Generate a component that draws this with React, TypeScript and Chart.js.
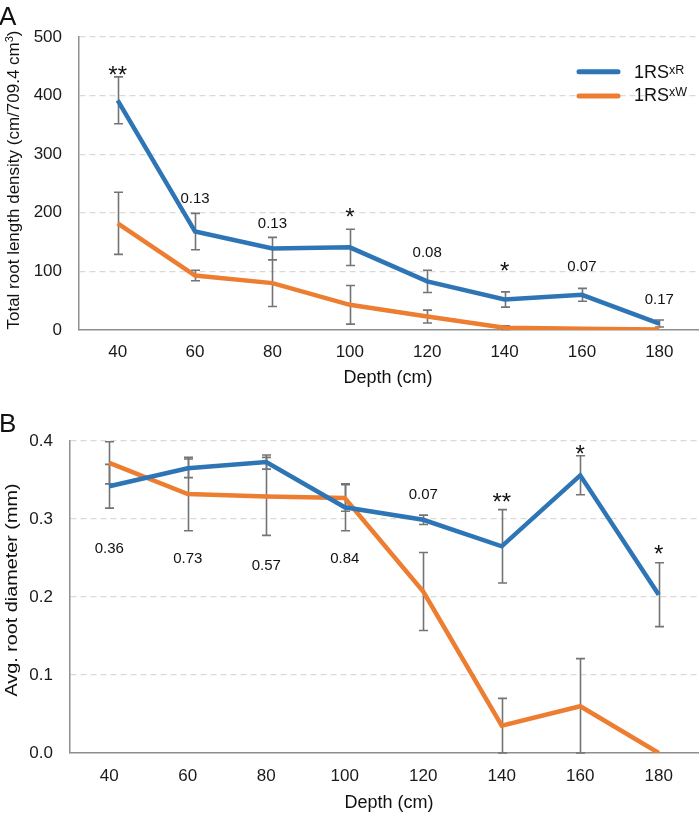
import React, { useEffect, useRef } from "react";
import { Chart, registerables } from "chart.js";
Chart.register(...registerables);

// ---- data ----
const depths = ["40", "60", "80", "100", "120", "140", "160", "180"];

const lengthXR = [392, 168, 139, 141, 83, 52, 60, 11];
const lengthXRErr = [40, 31, 19, 31, 19, 13, 11, 6];
const lengthXW = [182, 93, 80, 43, 23, 4, 2, 1];
const lengthXWErr = [53, 9, 40, 33, 11, 3, 0, 0];
const lengthMarks = ["**", "0.13", "0.13", "*", "0.08", "*", "0.07", "0.17"];
const lengthMarkY = [421, 216, 173.5, 179, 124, 87.5, 100, 45];
const lengthTicks = [0, 100, 200, 300, 400, 500];

const diamXR = [0.342, 0.365, 0.373, 0.315, 0.299, 0.265, 0.356, 0.203];
const diamXRErr = [0.028, 0.012, 0.009, 0.03, 0.006, 0.047, 0.025, 0.041];
const diamXW = [0.372, 0.332, 0.329, 0.327, 0.207, 0.035, 0.06, 0.0];
const diamXWErr = [0.027, 0.047, 0.05, 0.017, 0.05, 0.035, 0.061, 0];
const diamMarks = ["0.36", "0.73", "0.57", "0.84", "0.07", "**", "*", "*"];
const diamMarkY = [0.257, 0.243, 0.235, 0.244, 0.326, 0.312, 0.373, 0.245];
const diamTicks = [0, 0.1, 0.2, 0.3, 0.4];

const seriesNames = ["1RS", "1RS"];
const seriesSup = ["xR", "xW"];

const BLUE = "#2e75b6";
const ORANGE = "#ed7d31";
const FONT = '"Liberation Sans", Arial, sans-serif';

function makeExtras(cfg: any) {
  return {
    id: "extras",
    beforeDatasetsDraw(chart: any) {
      const ctx = chart.ctx;
      const xs = chart.scales.x;
      const ys = chart.scales.y;
      ctx.save();
      ctx.strokeStyle = "#747474";
      ctx.lineWidth = 1.6;
      for (const s of cfg.errs) {
        s.v.forEach((v: number, i: number) => {
          const e = s.e[i];
          if (!e) return;
          const px = Math.round(xs.getPixelForValue(i)) + 0.5;
          const top = ys.getPixelForValue(v + e);
          const lowV = Math.max(v - e, ys.min);
          const bot = ys.getPixelForValue(lowV);
          ctx.beginPath();
          ctx.moveTo(px, top);
          ctx.lineTo(px, bot);
          ctx.moveTo(px - 4.5, top);
          ctx.lineTo(px + 4.5, top);
          ctx.moveTo(px - 4.5, bot);
          ctx.lineTo(px + 4.5, bot);
          ctx.stroke();
        });
      }
      ctx.restore();
    },
    afterDraw(chart: any) {
      const ctx = chart.ctx;
      const xs = chart.scales.x;
      const ys = chart.scales.y;
      ctx.save();
      ctx.fillStyle = "#111";
      ctx.textAlign = "center";
      ctx.textBaseline = "alphabetic";
      cfg.marks.forEach((m: string, i: number) => {
        if (!m) return;
        const star = m.indexOf("*") >= 0;
        ctx.font = (star ? "24px " : "15px ") + FONT;
        ctx.fillText(m, xs.getPixelForValue(i), ys.getPixelForValue(cfg.markY[i]));
      });
      // panel letter
      ctx.textAlign = "left";
      ctx.font = "26px " + FONT;
      ctx.fillText(cfg.letter, -1, cfg.letterBase);
      // x title
      ctx.textAlign = "center";
      ctx.textBaseline = "middle";
      ctx.font = "18px " + FONT;
      ctx.fillText("Depth (cm)", cfg.xTitleX, cfg.xTitleY);
      // y title
      ctx.translate(cfg.yTitleX, cfg.yTitleY);
      ctx.rotate(-Math.PI / 2);
      ctx.scale(cfg.yTitleStretch, 1);
      const fs = cfg.yTitleSize;
      const parts = cfg.yTitle as { t: string; sup?: boolean }[];
      const widths = parts.map((p) => {
        ctx.font = (p.sup ? "11px " : fs + "px ") + FONT;
        return ctx.measureText(p.t).width;
      });
      const total = widths.reduce((a, b) => a + b, 0);
      let cx = -total / 2;
      ctx.textAlign = "left";
      ctx.textBaseline = "alphabetic";
      parts.forEach((p, i) => {
        ctx.font = (p.sup ? "11px " : fs + "px ") + FONT;
        ctx.fillText(p.t, cx, p.sup ? 6 - 6 : 6);
        cx += widths[i];
      });
      ctx.restore();

      if (cfg.legend) {
        ctx.save();
        const colors = [BLUE, ORANGE];
        const ly = [71.7, 96];
        const ty = [78.3, 100.5];
        colors.forEach((c, i) => {
          ctx.strokeStyle = c;
          ctx.lineWidth = 5;
          ctx.lineCap = "round";
          ctx.beginPath();
          ctx.moveTo(579, ly[i]);
          ctx.lineTo(618, ly[i]);
          ctx.stroke();
          ctx.fillStyle = "#111";
          ctx.font = "18px " + FONT;
          ctx.textAlign = "left";
          ctx.textBaseline = "alphabetic";
          ctx.fillText(seriesNames[i], 634, ty[i]);
          const w = ctx.measureText(seriesNames[i]).width;
          ctx.font = "12.5px " + FONT;
          ctx.fillText(seriesSup[i], 634 + w, ty[i] - 4.5);
        });
        ctx.restore();
      }
    },
  };
}

function buildConfig(p: any) {
  return {
    type: "line",
    data: {
      labels: depths,
      datasets: [
        { label: "xR", data: p.a, borderColor: BLUE, borderWidth: 4.5, pointRadius: 0, tension: 0, fill: false },
        { label: "xW", data: p.b, borderColor: ORANGE, borderWidth: 4.5, pointRadius: 0, tension: 0, fill: false },
      ],
    },
    options: {
      responsive: false,
      animation: false,
      events: [],
      layout: { padding: { left: 0, right: 2, top: p.padTop, bottom: 0 } },
      plugins: { legend: { display: false }, tooltip: { enabled: false }, title: { display: false } },
      scales: {
        x: {
          offset: true,
          grid: { display: false, drawTicks: false },
          border: { display: true, color: "#8e8e8e", width: 1.5 },
          ticks: { color: "#1a1a1a", font: { family: FONT, size: 17 }, padding: p.xPad, maxRotation: 0 },
          afterFit: (s: any) => {
            s.height = p.xHeight;
          },
        },
        y: {
          min: p.min,
          max: p.max,
          afterBuildTicks: (s: any) => {
            s.ticks = p.ticks.map((v: number) => ({ value: v }));
          },
          afterFit: (s: any) => {
            s.width = p.yWidth;
          },
          grid: {
            drawTicks: false,
            color: (c: any) => (c.tick && c.tick.value === p.min ? "rgba(0,0,0,0)" : "#d9d9d9"),
            lineWidth: 1.2,
          },
          border: { display: true, color: "#8e8e8e", width: 1.5, dash: [6, 4] },
          ticks: {
            color: "#1a1a1a",
            font: { family: FONT, size: 17 },
            padding: 17,
            callback: (v: any) => p.fmt(v),
          },
        },
      },
    },
    plugins: [makeExtras(p.extras)],
  };
}

function ChartCanvas(props: { cfg: any; width: number; height: number; top: number }) {
  const ref = useRef<HTMLCanvasElement | null>(null);
  useEffect(() => {
    if (!ref.current) return;
    const ch = new Chart(ref.current, props.cfg);
    return () => ch.destroy();
  }, []);
  return (
    <canvas
      ref={ref}
      width={props.width}
      height={props.height}
      style={{ position: "absolute", left: 0, top: props.top, width: props.width, height: props.height }}
    />
  );
}

export default function App() {
  const cfgA = buildConfig({
    a: lengthXR,
    b: lengthXW,
    min: 0,
    max: 500,
    ticks: lengthTicks,
    fmt: (v: number) => String(v),
    padTop: 37,
    xHeight: 65,
    yWidth: 79,
    xPad: 12,
    extras: {
      errs: [
        { v: lengthXR, e: lengthXRErr },
        { v: lengthXW, e: lengthXWErr },
      ],
      marks: lengthMarks,
      markY: lengthMarkY,
      letter: "A",
      letterBase: 25,
      xTitleX: 388,
      xTitleY: 378,
      yTitleX: 12.5,
      yTitleY: 180,
      yTitleSize: 17,
      yTitleStretch: 1,
      yTitle: [{ t: "Total root length density (cm/709.4 cm" }, { t: "3", sup: true }, { t: ")" }],
      legend: true,
    },
  });
  const cfgB = buildConfig({
    a: diamXR,
    b: diamXW,
    min: 0,
    max: 0.4,
    ticks: diamTicks,
    fmt: (v: number) => Number(v).toFixed(1),
    padTop: 46,
    xHeight: 64,
    yWidth: 70,
    xPad: 13,
    extras: {
      errs: [
        { v: diamXR, e: diamXRErr },
        { v: diamXW, e: diamXWErr },
      ],
      marks: diamMarks,
      markY: diamMarkY,
      letter: "B",
      letterBase: 37,
      xTitleX: 389,
      xTitleY: 408,
      yTitleX: 11,
      yTitleY: 195,
      yTitleSize: 16.5,
      yTitleStretch: 1.2,
      yTitle: [{ t: "Avg. root diameter (mm)" }],
      legend: false,
    },
  });
  return (
    <div style={{ position: "absolute", left: 0, top: 0, width: 700, height: 817, background: "#fff" }}>
      <ChartCanvas cfg={cfgA} width={700} height={395} top={0} />
      <ChartCanvas cfg={cfgB} width={700} height={422} top={395} />
    </div>
  );
}
